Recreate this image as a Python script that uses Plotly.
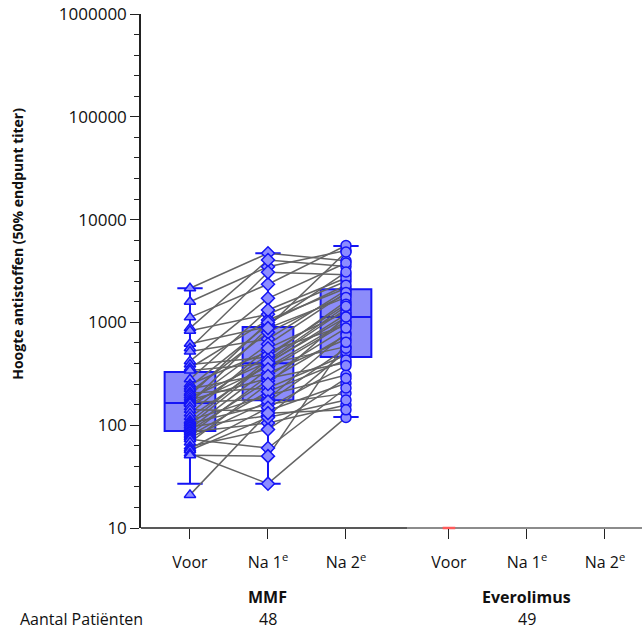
import numpy as np
import plotly.graph_objects as go

# Time points and treatment groups
timepoints = ["Voor", "Na 1<sup>e</sup>", "Na 2<sup>e</sup>"]
groups = ["MMF", "Everolimus"]
group_n = [48, 49]

# Antibody titres per MMF patient (same patient order in each list)
voor = [2150, 1590, 1120, 880, 830, 620, 560, 520, 420, 390, 360, 340,
        280, 250, 237, 225, 210, 204, 195, 185, 176, 170, 166, 164,
        162, 150, 141, 130, 120, 112, 108, 104, 100, 96, 92, 89,
        86, 82, 79, 76, 73, 68, 62, 59, 57, 53, 51, 21]
na1 = [4700, 3480, 2350, 4050, 1200, 910, 3070, 690, 1715, 460, 1055, 400,
       1320, 520, 950, 320, 800, 230, 1000, 415, 286, 612, 180, 880,
       370, 482, 138, 560, 395, 195, 431, 160, 405, 124, 350, 270,
       105, 301, 212, 170, 60, 252, 91, 148, 119, 27, 50, 131]
na2 = [3980, 5000, 5600, 3500, 2510, 4840, 2910, 2050, 3780, 1600, 2150, 1200,
       2700, 937, 3090, 685, 1860, 482, 2300, 1350, 405, 1950, 789, 1750,
       1025, 1500, 256, 1263, 581, 308, 1434, 204, 1120, 520, 980, 750,
       157, 880, 431, 560, 230, 1130, 286, 380, 176, 119, 640, 141]

# Box summaries per time point: whisker ends, quartiles and median
box_low = [27, 27, 120]
box_q1 = [88, 175, 460]
box_med = [164, 400, 1130]
box_q3 = [330, 900, 2100]
box_high = [2150, 4700, 5550]

# Single Everolimus value shown on the baseline
everolimus_voor = [10]

# Axis tick values
y_ticks = [10, 100, 1000, 10000, 100000, 1000000]
y_ticktext = ["10", "100", "1000", "10000", "100000", "1000000"]

mmf_x = [0, 1, 2]
ever_x = [3.32, 4.32, 5.32]

BLUE = "rgb(20,20,245)"
FILL = "rgba(128,128,250,0.9)"
MARK = "rgb(140,140,255)"
FONT = "Open Sans"

fig = go.Figure()

fig.add_trace(go.Box(
    x=mmf_x, q1=box_q1, median=box_med, q3=box_q3,
    lowerfence=box_low, upperfence=box_high,
    width=0.65, whiskerwidth=0.5,
    fillcolor=FILL, line=dict(color=BLUE, width=2),
    hoverinfo="skip", boxpoints=False,
))

# Patient trajectories
lx, ly = [], []
for a, b, c in zip(voor, na1, na2):
    lx += mmf_x + [None]
    ly += [a, b, c, None]
fig.add_trace(go.Scatter(
    x=lx, y=ly, mode="lines",
    line=dict(color="rgb(100,100,100)", width=1.5),
    hoverinfo="skip",
))

symbols = ["triangle-up", "diamond", "circle"]
sizes = [10, 10, 10]
for xpos, vals, sym, sz in zip(mmf_x, [voor, na1, na2], symbols, sizes):
    fig.add_trace(go.Scatter(
        x=[xpos] * len(vals), y=vals, mode="markers",
        marker=dict(symbol=sym, size=sz, color=MARK,
                    line=dict(color=BLUE, width=1.5)),
        hoverinfo="skip",
    ))

fig.add_trace(go.Scatter(
    x=[ever_x[0]], y=everolimus_voor, mode="markers", cliponaxis=False,
    marker=dict(symbol="line-ew", size=9,
                line=dict(color="rgb(255,90,90)", width=2.5)),
    hoverinfo="skip",
))

minor_vals = [10 ** (d + f) for d in range(1, 6) for f in (0.2, 0.4, 0.6, 0.8)]

fig.update_layout(
    width=642, height=632,
    margin=dict(l=141, r=0, t=14, b=104),
    plot_bgcolor="white", paper_bgcolor="white",
    showlegend=False,
    font=dict(family=FONT, size=16, color="#111111"),
    xaxis=dict(
        range=[-0.628, 5.795],
        tickmode="array", tickvals=mmf_x + ever_x, ticktext=timepoints * 2,
        ticks="outside", ticklen=10, tickwidth=1.2, tickcolor="#222",
        showline=False, showgrid=False, zeroline=False,
        ticklabelstandoff=10,
        tickfont=dict(size=16),
    ),
    yaxis=dict(
        type="log", range=[1, 6],
        tickmode="array", tickvals=y_ticks, ticktext=y_ticktext,
        ticks="outside", ticklen=9, tickwidth=1.2, tickcolor="#222",
        showline=True, linecolor="#222", linewidth=1.5,
        showgrid=False, zeroline=False,
        tickfont=dict(size=17),
        minor=dict(tickmode="array", tickvals=minor_vals, ticks="outside",
                   ticklen=5, tickwidth=1.2, tickcolor="#222", showgrid=False),
    ),
    # x-axis baseline: dark under the MMF group, lighter grey under Everolimus
    shapes=[
        dict(type="line", xref="paper", yref="paper", x0=0, x1=0.531,
             y0=0, y1=0, line=dict(color="#222", width=1.5), layer="below"),
        dict(type="line", xref="paper", yref="paper", x0=0.531, x1=1,
             y0=0, y1=0, line=dict(color="rgb(140,140,140)", width=1.8),
             layer="below"),
    ],
)

annotations = [
    dict(text="<b>Hoogte antistoffen (50% endpunt titer)</b>", textangle=-90,
         xref="paper", yref="paper", x=-0.2455, y=0.553,
         xanchor="center", yanchor="middle", showarrow=False,
         font=dict(size=14)),
    dict(text="Aantal Patiënten", xref="paper", yref="paper",
         x=-0.118, y=-0.177, xanchor="center", yanchor="middle",
         showarrow=False, font=dict(size=16)),
]
for gx, name, n in zip([mmf_x[1], ever_x[1]], groups, group_n):
    annotations.append(dict(text=f"<b>{name}</b>", xref="x", yref="paper",
                            x=gx, y=-0.134, xanchor="center", yanchor="middle",
                            showarrow=False, font=dict(size=16)))
    annotations.append(dict(text=str(n), xref="x", yref="paper",
                            x=gx, y=-0.177, xanchor="center", yanchor="middle",
                            showarrow=False, font=dict(size=16)))
fig.update_layout(annotations=annotations)

fig.write_html("out.html")
